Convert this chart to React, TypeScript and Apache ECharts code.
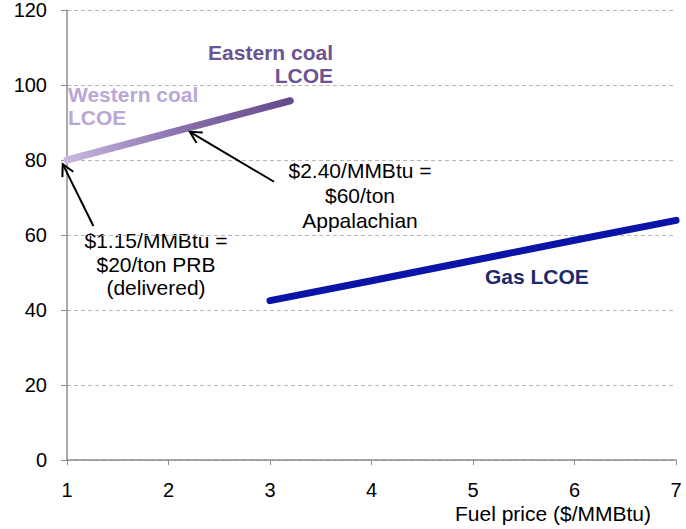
import React, { useEffect, useRef } from "react";
import * as echarts from "echarts";

const xTicks = [1, 2, 3, 4, 5, 6, 7];
const yTicks = [0, 20, 40, 60, 80, 100, 120];

const coalPrice = [1, 3.2];
const coalLcoe = [80, 95.8];

const gasPrice = [3, 4, 5, 6, 7];
const gasLcoe = [42.5, 47.8, 53.2, 58.6, 63.9];

// arrows: [tailX, tailY, headX, headY] in data units
const arrows = [
  [3.04, 74.2, 2.21, 87.5],
  [1.26, 62.4, 0.958, 78.9],
];

const FONT = "'Liberation Sans', Arial, sans-serif";

export default function App() {
  const ref = useRef<HTMLDivElement>(null);
  useEffect(() => {
    if (!ref.current) return;
    const chart = echarts.init(ref.current, undefined, { renderer: "svg" });
    const option: any = {
      animation: false,
      backgroundColor: "#ffffff",
      textStyle: { fontFamily: FONT },
      grid: { left: 67, right: 10, top: 10, bottom: 69, containLabel: false },
      xAxis: {
        type: "value",
        min: xTicks[0],
        max: xTicks[xTicks.length - 1],
        interval: 1,
        axisLine: { show: true, lineStyle: { color: "#8c8c8c", width: 1.5 } },
        axisTick: { show: true, length: 5, lineStyle: { color: "#8c8c8c" } },
        axisLabel: { fontSize: 20, color: "#000", margin: 20, lineHeight: 20, fontFamily: FONT },
        splitLine: { show: false },
      },
      yAxis: {
        type: "value",
        min: yTicks[0],
        max: yTicks[yTicks.length - 1],
        interval: 20,
        axisLine: { show: true, lineStyle: { color: "#8c8c8c", width: 1.5 } },
        axisTick: { show: true, length: 6, lineStyle: { color: "#8c8c8c" } },
        axisLabel: { fontSize: 20, color: "#000", margin: 20, fontFamily: FONT },
        splitLine: { show: true, lineStyle: { color: "#b5b5b5", type: [4, 3], width: 1 } },
      },
      series: [
        {
          type: "line",
          name: "Coal",
          data: coalPrice.map((x, i) => [x, coalLcoe[i]]),
          showSymbol: false,
          symbol: "none",
          lineStyle: {
            width: 7,
            cap: "round",
            color: new echarts.graphic.LinearGradient(0, 0, 1, 0, [
              { offset: 0, color: "#c8b8de" },
              { offset: 0.5, color: "#8a70ad" },
              { offset: 1, color: "#664a8c" },
            ]),
          },
          z: 3,
        },
        {
          type: "line",
          name: "Gas",
          data: gasPrice.map((x, i) => [x, gasLcoe[i]]),
          showSymbol: false,
          symbol: "none",
          lineStyle: { width: 7, cap: "round", color: "#0a14a6" },
          z: 3,
        },
        {
          type: "custom",
          coordinateSystem: "cartesian2d",
          clip: false,
          silent: true,
          z: 4,
          data: arrows,
          encode: { x: [0, 2], y: [1, 3] },
          renderItem: (params: any, api: any) => {
            const t = api.coord([api.value(0), api.value(1)]);
            const h = api.coord([api.value(2), api.value(3)]);
            const ang = Math.atan2(t[1] - h[1], t[0] - h[0]);
            const len = 13;
            const spread = (28 * Math.PI) / 180;
            const w1 = [h[0] + len * Math.cos(ang + spread), h[1] + len * Math.sin(ang + spread)];
            const w2 = [h[0] + len * Math.cos(ang - spread), h[1] + len * Math.sin(ang - spread)];
            return {
              type: "group",
              children: [
                {
                  type: "line",
                  shape: { x1: t[0], y1: t[1], x2: h[0], y2: h[1] },
                  style: { stroke: "#000", lineWidth: 2 },
                },
                {
                  type: "polyline",
                  shape: { points: [w1, h, w2] },
                  style: { stroke: "#000", fill: "none", lineWidth: 2 },
                },
              ],
            };
          },
        },
      ],
      graphic: [
        {
          type: "text",
          x: 333,
          y: 41,
          style: {
            text: "Eastern coal\nLCOE",
            font: `bold 21px ${FONT}`,
            fill: "#6a5592",
            align: "right",
            lineHeight: 23,
          },
        },
        {
          type: "text",
          x: 68,
          y: 83,
          style: {
            text: "Western coal\nLCOE",
            font: `bold 21px ${FONT}`,
            fill: "#b9a7d5",
            align: "left",
            lineHeight: 23,
          },
        },
        {
          type: "text",
          x: 485,
          y: 266,
          style: {
            text: "Gas LCOE",
            font: `bold 21px ${FONT}`,
            fill: "#1c2a6c",
          },
        },
        {
          type: "text",
          x: 360,
          y: 158,
          style: {
            text: "$2.40/MMBtu =\n$60/ton\nAppalachian",
            font: `21px ${FONT}`,
            fill: "#000",
            align: "center",
            lineHeight: 25,
          },
        },
        {
          type: "text",
          x: 156,
          y: 229,
          style: {
            text: "$1.15/MMBtu =\n$20/ton PRB\n(delivered)",
            font: `21px ${FONT}`,
            fill: "#000",
            align: "center",
            lineHeight: 23.5,
          },
        },
        {
          type: "text",
          x: 651,
          y: 503,
          style: {
            text: "Fuel price ($/MMBtu)",
            font: `21px ${FONT}`,
            fill: "#000",
            align: "right",
            lineHeight: 21,
          },
        },
      ],
    };
    chart.setOption(option);
    return () => chart.dispose();
  }, []);
  return (
    <div
      ref={ref}
      style={{ position: "absolute", left: 0, top: 0, width: 686, height: 529 }}
    />
  );
}
